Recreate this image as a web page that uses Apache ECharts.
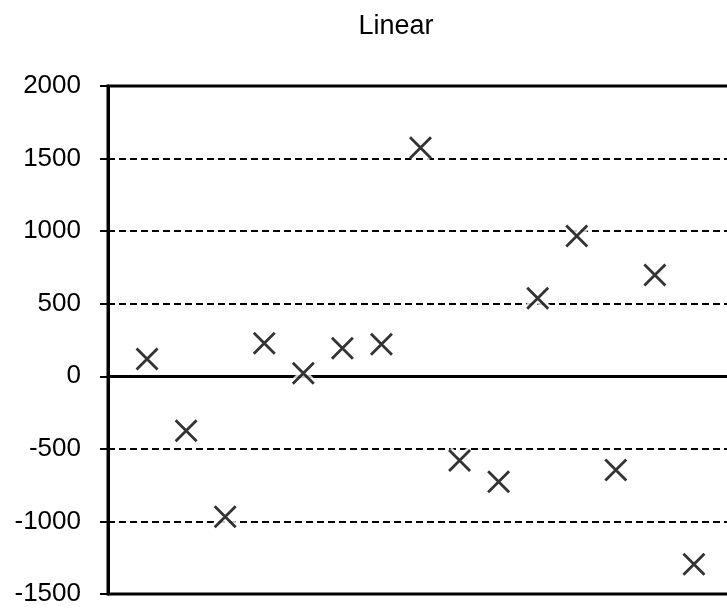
<!DOCTYPE html>
<html>
<head>
<meta charset="utf-8">
<script src="https://cdn.jsdelivr.net/npm/echarts@6/dist/echarts.min.js"></script>
<style>
html,body{margin:0;padding:0;background:#fff;overflow:hidden;}
#chart{width:745px;height:615px;}
</style>
</head>
<body>
<div id="chart"></div>
<script>
var titleText = "Linear";
var xPositions = [1, 2, 3, 4, 5, 6, 7, 8, 9, 10, 11, 12, 13, 14, 15];
var yValues = [119, -375, -967, 227, 21, 193, 220, 1575, -581, -726, 537, 967, -646, 698, -1295];
var yMin = -1500, yMax = 2000, yStep = 500;
var xMin = 0, xMax = 16;

var points = xPositions.map(function (x, i) { return [x, yValues[i]]; });
var crossPath = 'path://M0,0L20,20M20,0L0,20';

var chart = echarts.init(document.getElementById('chart'), null, {renderer: 'canvas'});
chart.setOption({
  animation: false,
  backgroundColor: '#fff',
  title: {
    text: titleText,
    left: 391, top: 8, textAlign: 'center',
    textStyle: {fontFamily: 'Liberation Sans', fontSize: 27, fontWeight: 'normal', color: '#000'}
  },
  grid: {
    left: 108, top: 86, width: 625, height: 508,
    show: true, borderColor: '#000', borderWidth: 3, backgroundColor: 'transparent'
  },
  xAxis: {
    type: 'value', min: xMin, max: xMax,
    axisLine: {show: true, onZero: true, lineStyle: {color: '#000', width: 3}},
    axisTick: {show: false}, axisLabel: {show: false}, splitLine: {show: false}
  },
  yAxis: {
    type: 'value', min: yMin, max: yMax, interval: yStep,
    axisLine: {show: true, lineStyle: {color: '#000', width: 3}},
    axisTick: {show: true, length: 8, lineStyle: {color: '#000', width: 2}},
    axisLabel: {color: '#000', fontSize: 26, fontFamily: 'Liberation Sans', margin: 27,
      formatter: function (v) { return String(v); }},
    splitLine: {show: true, lineStyle: {color: '#000', width: 2, type: [7, 4]}}
  },
  series: [
    {
      type: 'scatter', data: points, symbol: crossPath, symbolSize: 21, z: 3,
      silent: true,
      itemStyle: {color: 'rgba(0,0,0,0)', borderColor: '#fff', borderWidth: 8}
    },
    {
      type: 'scatter', data: points, symbol: crossPath, symbolSize: 21, z: 4,
      silent: true,
      itemStyle: {color: 'rgba(0,0,0,0)', borderColor: '#000', borderWidth: 2.8}
    }
  ]
});
</script>
</body>
</html>
